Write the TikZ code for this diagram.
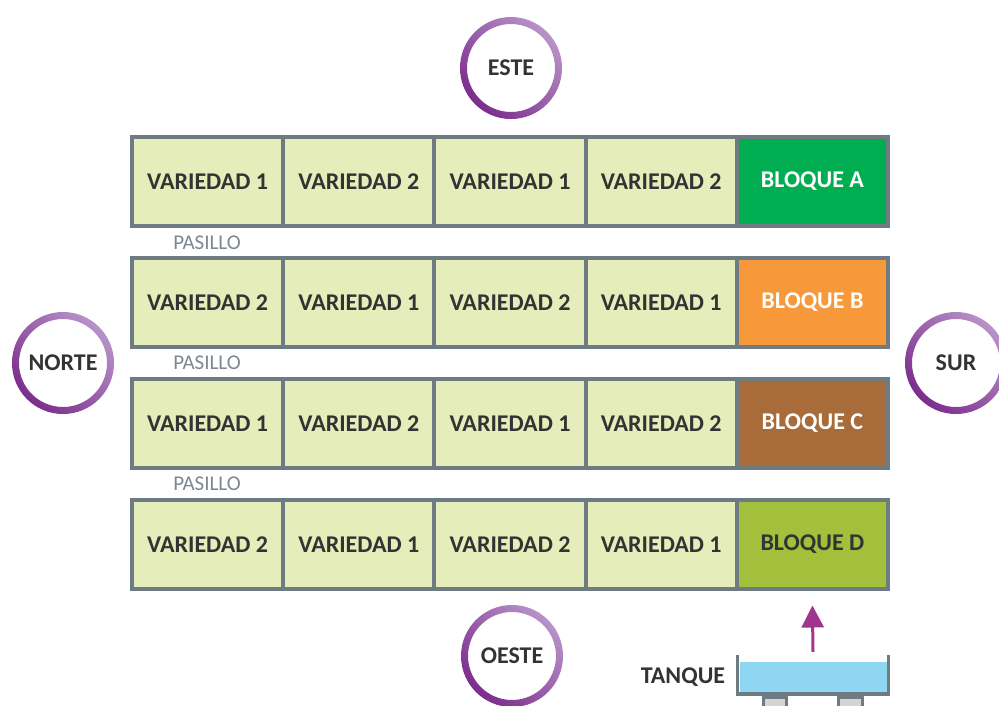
\documentclass[tikz,border=0pt]{standalone}
\usepackage{fontspec}
\setmainfont{Carlito}
\usetikzlibrary{positioning,arrows.meta}

\definecolor{borde}{HTML}{6E7B83}
\definecolor{celdafondo}{HTML}{E5EDBB}
\definecolor{texto}{HTML}{333333}
\definecolor{gristexto}{HTML}{7C8790}
\definecolor{bloqueA}{HTML}{00AD50}
\definecolor{bloqueB}{HTML}{F7983A}
\definecolor{bloqueC}{HTML}{A86B3A}
\definecolor{bloqueD}{HTML}{A2C03C}
\definecolor{morado}{HTML}{7B2D8C}
\definecolor{moradoclaro}{HTML}{B893C8}
\definecolor{flechamorada}{HTML}{A0348F}
\definecolor{agua}{HTML}{8FD6F2}
\definecolor{patagris}{HTML}{D4D4D4}

\tikzset{
  celda/.style={draw=borde, line width=4pt, fill=celdafondo, minimum width=151.2pt,
    minimum height=89pt, inner sep=0pt, text=texto,
    font=\bfseries\fontsize{24}{28}\selectfont},
  punto/.style={circle, minimum size=102pt, inner sep=0pt, fill=white, text=texto,
    font=\bfseries\fontsize{24}{28}\selectfont,
    path picture={\shade[top color=moradoclaro, bottom color=morado, shading angle=-45, even odd rule]
      (path picture bounding box.center) circle[radius=51pt] circle[radius=44pt];}},
  pasillo/.style={text=gristexto, inner sep=0pt, font=\fontsize{21}{24}\selectfont},
  flecha/.style={draw=flechamorada, line width=3pt, -{Triangle[width=22pt,length=22pt]}},
  pared/.style={draw=borde, line width=3.5pt},
  pata/.style={draw=borde, fill=patagris, line width=3pt}
}

\begin{document}
\begin{tikzpicture}[x=1pt,y=-1pt]
\useasboundingbox (0,0) rectangle (999,705);

% parcelas: variedades alternadas
\foreach \fila/\y in {1/181.5, 2/302.5, 3/423.5, 4/544.5}{
  \foreach \col in {1,...,4}{
    \pgfmathtruncatemacro\var{1+mod(\fila+\col,2)}
    \node[celda] (v\fila-\col) at (132+75.6+151.2*\col-151.2, \y) {VARIEDAD \var};
  }
}

% bloques
\node[celda, fill=bloqueA, text=white] (bA) at (812.4,181.5) {BLOQUE A};
\node[celda, fill=bloqueB, text=white] (bB) at (812.4,302.5) {BLOQUE B};
\node[celda, fill=bloqueC, text=white] (bC) at (812.4,423.5) {BLOQUE C};
\node[celda, fill=bloqueD] (bD) at (812.4,544.5) {BLOQUE D};

% pasillos
\node[pasillo] (p1) at (207,243) {PASILLO};
\node[pasillo] (p2) at (207,363) {PASILLO};
\node[pasillo] (p3) at (207,484) {PASILLO};

% puntos cardinales
\node[punto] (este) at (511,68) {ESTE};
\node[punto] (oeste) at (512,656) {OESTE};
\node[punto] (norte) at (63,363) {NORTE};
\node[punto] (sur) at (956,363) {SUR};

% tanque
\node[fill=agua, minimum width=147pt, minimum height=30pt, inner sep=0pt] (tanque) at (813,677) {};
\draw[pared] ([shift={(-1.75pt,7pt)}]tanque.north west) -- ([shift={(-1.75pt,-1.75pt)}]tanque.south west)
  -- ([shift={(1.75pt,-1.75pt)}]tanque.south east) -- ([shift={(1.75pt,7pt)}]tanque.north east);
\draw[pata] (763.5,697) rectangle (786.5,715);
\draw[pata] (838.5,697) rectangle (862.5,715);
\node[left=14pt of tanque, inner sep=0pt, text=texto, font=\bfseries\fontsize{24}{28}\selectfont] (lbltanque) {TANQUE};

\draw[flecha] ([yshift=10pt]tanque.north) -- ([yshift=-14.5pt]bD.south);

\end{tikzpicture}
\end{document}
